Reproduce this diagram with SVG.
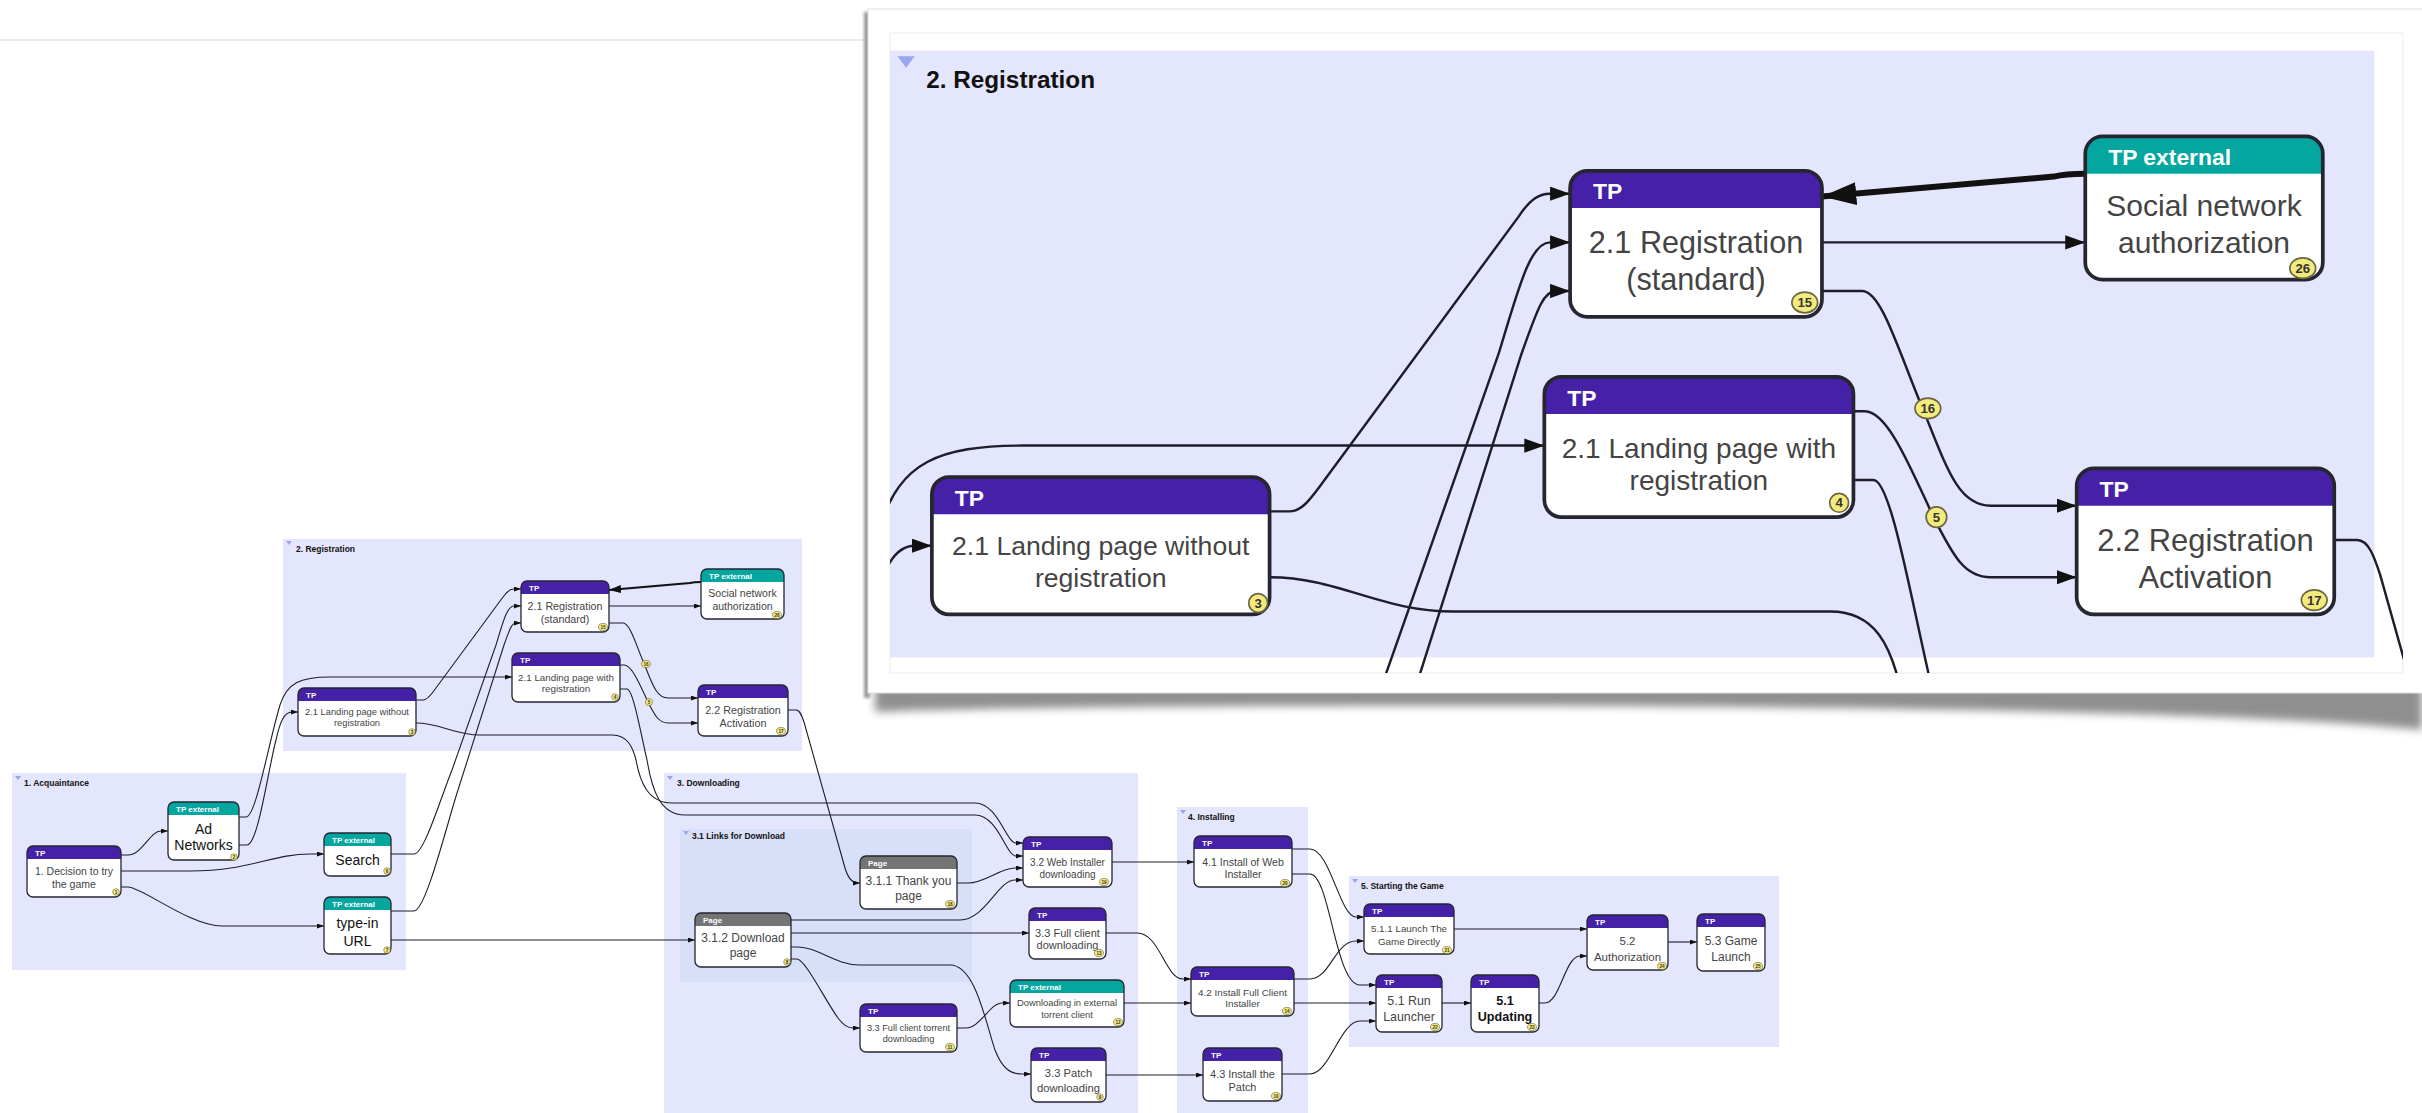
<svg xmlns="http://www.w3.org/2000/svg" width="2422" height="1113" viewBox="0 0 2422 1113">
<style>
.bg{fill:#e3e6fc}
.bg2{fill:#d8dff9}
.gl{font-family:"Liberation Sans",Arial,sans-serif;font-weight:bold;font-size:8.5px;fill:#111}
.tri{fill:#98a6f0}
.nb{fill:#fff}
.no{fill:none;stroke:#262630;stroke-width:1.3}
.tp{fill:#4521a8}
.ex{fill:#06a6a0}
.pg{fill:#747474}
.hl{font-family:"Liberation Sans",Arial,sans-serif;font-weight:bold;font-size:8px;fill:#fff}
.t{font-family:"Liberation Sans",Arial,sans-serif;fill:#444;text-anchor:middle}
.tb{fill:#111}
.e{fill:none;stroke:#1d1d2b;stroke-width:1.1;marker-end:url(#a)}
.ei .e{stroke-width:0.85}
.thick{fill:none;stroke:#111;stroke-width:2.1;marker-end:url(#ab)}
.bd{fill:#f3ea7e;stroke:#6b6540;stroke-width:.6}
.bn{font-family:"Liberation Sans",Arial,sans-serif;font-size:4.6px;fill:#333;text-anchor:middle;font-weight:bold}
</style>
<defs>
<marker id="a" markerUnits="userSpaceOnUse" markerWidth="7" markerHeight="5" refX="7" refY="2.5" orient="auto"><path d="M0,0 L7,2.5 L0,5 z" fill="#111"/></marker>
<marker id="ab" markerUnits="userSpaceOnUse" markerWidth="12" markerHeight="8" refX="12" refY="4" orient="auto"><path d="M0,0 L12,4 L0,8 z" fill="#111"/></marker>
<filter id="blur" x="-5%" y="-100%" width="110%" height="300%"><feGaussianBlur stdDeviation="4"/></filter>
<filter id="blur2" x="-200%" y="-5%" width="500%" height="110%"><feGaussianBlur stdDeviation="1.5"/></filter>
<clipPath id="insetClip"><rect x="890" y="33" width="1513" height="640"/></clipPath>
</defs>
<rect x="0" y="0" width="2422" height="1113" fill="#fff"/>
<line x1="0" y1="40" x2="868" y2="40" stroke="#e3e3e3" stroke-width="1.5"/>

<!-- groups -->
<g id="group-acquaintance">
<rect class="bg" x="12" y="773" width="394" height="197"/>
<path class="tri" d="M15,776h6l-3,4z"/>
<text class="gl" x="24" y="786">1. Acquaintance</text>
</g>
<g id="group-registration">
<rect class="bg" x="283" y="539" width="519" height="212"/>
<path class="tri" d="M286,541h6l-3,4z"/>
<text class="gl" x="296" y="552">2. Registration</text>
</g>
<g id="group-downloading">
<rect class="bg" x="664" y="773" width="474" height="340"/>
<path class="tri" d="M667,776h6l-3,4z"/>
<text class="gl" x="677" y="786">3. Downloading</text>
</g>
<g id="group-links">
<rect class="bg2" x="680" y="829" width="292" height="153"/>
<path class="tri" d="M683,831h6l-3,4z"/>
<text class="gl" x="692" y="839">3.1 Links for Download</text>
</g>
<g id="group-installing">
<rect class="bg" x="1177" y="807" width="131" height="306"/>
<path class="tri" d="M1180,810h6l-3,4z"/>
<text class="gl" x="1188" y="820">4. Installing</text>
</g>
<g id="group-starting">
<rect class="bg" x="1349" y="876" width="430" height="171"/>
<path class="tri" d="M1352,879h6l-3,4z"/>
<text class="gl" x="1361" y="889">5. Starting the Game</text>
</g>

<!-- connectors -->
<g id="connectors">
<path class="e" d="M121,855 H128 C142,855 150,831 161,831 H168"/>
<path class="e" d="M121,871 H190 C250,871 272,854 310,854 H324"/>
<path class="e" d="M121,887 H128 C142,887 190,926 222,926 H324"/>
<path class="e" d="M239,817 H246 C256,817 268,745 280,705 C287,683 300,677 330,677 H512"/>
<path class="e" d="M239,845 H247 C258,845 268,770 276,740 C280,722 284,712 292,712 H298"/>
<path class="e" d="M391,854 H414 C424,854 440,800 452,770 L496,645 C503,622 507,606 514,606 H521"/>
<path class="e" d="M391,911 H414 C426,911 448,820 458,790 L504,645 C510,628 512,623 516,623 H521"/>
<path class="e" d="M416,700 H423 C427,700 430,696 433,692 L503,597 C507,591 510,589 514,589 H521"/>
<path class="thick" d="M701,582 C697,582 694,582 690,583 L609,590"/>
<path class="e" d="M609,606 H701"/>
<path class="e" d="M609,623 H623 C630,623 636,645 645,666 C653,686 657,698 668,698 H698"/>
<path class="e" d="M620,665 H624 C632,665 640,685 648,702 C655,716 659,723 668,723 H698"/>
<path class="e" d="M620,689 H627 C633,689 640,730 647,760 C652,790 660,815 685,815 H975 C998,815 1006,856 1016,856 H1023"/>
<path class="e" d="M416,723 C440,723 455,735 480,735 H612 C628,735 633,748 636,760 C640,782 648,803 672,803 H975 C998,803 1006,843 1016,843 H1023"/>
<path class="e" d="M788,710 H796 C800,710 802,716 804,722 L845,868 C848,878 852,883 858,883 H860"/>
<path class="e" d="M957,883 H968 C985,883 1000,868 1015,868 H1023"/>
<path class="e" d="M791,920 H960 C985,920 998,880 1015,880 H1023"/>
<path class="e" d="M791,933 H1029"/>
<path class="e" d="M791,947 H798 C818,947 835,965 860,965 H950 C975,965 985,1020 995,1050 C1002,1068 1010,1074 1022,1074 H1031"/>
<path class="e" d="M791,959 H797 C805,959 825,1000 838,1018 C843,1025 848,1028 853,1028 H860"/>
<path class="e" d="M957,1028 H966 C980,1028 990,1003 1002,1003 H1010"/>
<path class="e" d="M1112,862 H1194"/>
<path class="e" d="M1106,933 H1137 C1160,933 1165,979 1183,979 H1191"/>
<path class="e" d="M1124,1003 H1191"/>
<path class="e" d="M1106,1075 H1203"/>
<path class="e" d="M1292,849 H1310 C1330,849 1340,917 1356,917 H1364"/>
<path class="e" d="M1292,874 H1310 C1330,874 1335,985 1360,985 H1376"/>
<path class="e" d="M1294,979 H1310 C1330,979 1335,941 1356,941 H1364"/>
<path class="e" d="M1294,1003 H1376"/>
<path class="e" d="M1282,1074 H1310 C1330,1074 1340,1021 1360,1021 H1376"/>
<path class="e" d="M1454,929 H1587"/>
<path class="e" d="M1442,1003 H1471"/>
<path class="e" d="M1539,1003 H1545 C1560,1003 1565,956 1580,956 H1587"/>
<path class="e" d="M1668,942 H1697"/>
<path class="e" d="M391,940 H695"/>
<ellipse class="bd" cx="646" cy="664" rx="4.5" ry="3.6"/><text class="bn" x="646" y="665.6">16</text>
<ellipse class="bd" cx="649" cy="702" rx="3.6" ry="3.6"/><text class="bn" x="649" y="703.6">5</text>
</g>

<!-- nodes -->
<g id="n-decision">
<rect class="nb" x="27" y="846" width="94" height="51" rx="6"/>
<path class="tp" d="M27,859v-7a6,6 0 0 1 6,-6h82a6,6 0 0 1 6,6v7z"/>
<rect class="no" x="27" y="846" width="94" height="51" rx="6"/>
<text class="hl" x="35" y="856">TP</text>
<text class="t" font-size="10.5"><tspan x="74" y="874.7">1. Decision to try</tspan><tspan x="74" y="887.7">the game</tspan></text>
<ellipse class="bd" cx="116" cy="892" rx="3.3" ry="3.3"/><text class="bn" x="116" y="893.6">1</text>
</g>
<g id="n-ad-networks">
<rect class="nb" x="168" y="802" width="71" height="58" rx="6"/>
<path class="ex" d="M168,815v-7a6,6 0 0 1 6,-6h59a6,6 0 0 1 6,6v7z"/>
<rect class="no" x="168" y="802" width="71" height="58" rx="6"/>
<text class="hl" x="176" y="812">TP external</text>
<text class="t tb" font-size="14"><tspan x="203.5" y="833.9">Ad</tspan><tspan x="203.5" y="849.9">Networks</tspan></text>
<ellipse class="bd" cx="234" cy="857" rx="3.3" ry="3.3"/><text class="bn" x="234" y="858.6">2</text>
</g>
<g id="n-search">
<rect class="nb" x="324" y="833" width="67" height="43" rx="6"/>
<path class="ex" d="M324,846v-7a6,6 0 0 1 6,-6h55a6,6 0 0 1 6,6v7z"/>
<rect class="no" x="324" y="833" width="67" height="43" rx="6"/>
<text class="hl" x="332" y="843">TP external</text>
<text class="t tb" font-size="14" x="357.5" y="864.9">Search</text>
<ellipse class="bd" cx="387" cy="871" rx="3.3" ry="3.3"/><text class="bn" x="387" y="872.6">6</text>
</g>
<g id="n-type-in-url">
<rect class="nb" x="324" y="897" width="67" height="57" rx="6"/>
<path class="ex" d="M324,910v-7a6,6 0 0 1 6,-6h55a6,6 0 0 1 6,6v7z"/>
<rect class="no" x="324" y="897" width="67" height="57" rx="6"/>
<text class="hl" x="332" y="907">TP external</text>
<text class="t tb" font-size="14"><tspan x="357.5" y="927.9">type-in</tspan><tspan x="357.5" y="945.9">URL</tspan></text>
<ellipse class="bd" cx="387" cy="950" rx="3.3" ry="3.3"/><text class="bn" x="387" y="951.6">7</text>
</g>
<g id="n-registration-standard">
<rect class="nb" x="521" y="581" width="88" height="51" rx="6"/>
<path class="tp" d="M521,594v-7a6,6 0 0 1 6,-6h76a6,6 0 0 1 6,6v7z"/>
<rect class="no" x="521" y="581" width="88" height="51" rx="6"/>
<text class="hl" x="529" y="591">TP</text>
<text class="t" font-size="10.7"><tspan x="565" y="609.7">2.1 Registration</tspan><tspan x="565" y="622.7">(standard)</tspan></text>
<ellipse class="bd" cx="603" cy="627" rx="4.5" ry="3.6"/><text class="bn" x="603" y="628.6">15</text>
</g>
<g id="n-social">
<rect class="nb" x="701" y="569" width="83" height="50" rx="6"/>
<path class="ex" d="M701,582v-7a6,6 0 0 1 6,-6h71a6,6 0 0 1 6,6v7z"/>
<rect class="no" x="701" y="569" width="83" height="50" rx="6"/>
<text class="hl" x="709" y="579">TP external</text>
<text class="t" font-size="10.5"><tspan x="742.5" y="596.7">Social network</tspan><tspan x="742.5" y="609.7">authorization</tspan></text>
<ellipse class="bd" cx="777" cy="615" rx="4.5" ry="3.6"/><text class="bn" x="777" y="616.6">26</text>
</g>
<g id="n-landing-with">
<rect class="nb" x="512" y="653" width="108" height="49" rx="6"/>
<path class="tp" d="M512,666v-7a6,6 0 0 1 6,-6h96a6,6 0 0 1 6,6v7z"/>
<rect class="no" x="512" y="653" width="108" height="49" rx="6"/>
<text class="hl" x="520" y="663">TP</text>
<text class="t" font-size="9.8"><tspan x="566" y="681.4">2.1 Landing page with</tspan><tspan x="566" y="692.4">registration</tspan></text>
<ellipse class="bd" cx="615" cy="697" rx="3.3" ry="3.3"/><text class="bn" x="615" y="698.6">4</text>
</g>
<g id="n-landing-without">
<rect class="nb" x="298" y="688" width="118" height="48" rx="6"/>
<path class="tp" d="M298,701v-7a6,6 0 0 1 6,-6h106a6,6 0 0 1 6,6v7z"/>
<rect class="no" x="298" y="688" width="118" height="48" rx="6"/>
<text class="hl" x="306" y="698">TP</text>
<text class="t" font-size="9.3"><tspan x="357" y="715.3">2.1 Landing page without</tspan><tspan x="357" y="726.3">registration</tspan></text>
<ellipse class="bd" cx="412" cy="732" rx="3.3" ry="3.3"/><text class="bn" x="412" y="733.6">3</text>
</g>
<g id="n-activation">
<rect class="nb" x="698" y="685" width="90" height="51" rx="6"/>
<path class="tp" d="M698,698v-7a6,6 0 0 1 6,-6h78a6,6 0 0 1 6,6v7z"/>
<rect class="no" x="698" y="685" width="90" height="51" rx="6"/>
<text class="hl" x="706" y="695">TP</text>
<text class="t" font-size="10.8"><tspan x="743" y="713.8">2.2 Registration</tspan><tspan x="743" y="726.8">Activation</tspan></text>
<ellipse class="bd" cx="781" cy="731" rx="4.5" ry="3.6"/><text class="bn" x="781" y="732.6">17</text>
</g>
<g id="n-download-page">
<rect class="nb" x="695" y="913" width="96" height="54" rx="6"/>
<path class="pg" d="M695,926v-7a6,6 0 0 1 6,-6h84a6,6 0 0 1 6,6v7z"/>
<rect class="no" x="695" y="913" width="96" height="54" rx="6"/>
<text class="hl" x="703" y="923">Page</text>
<text class="t" font-size="12"><tspan x="743" y="942.2">3.1.2 Download</tspan><tspan x="743" y="957.2">page</tspan></text>
<ellipse class="bd" cx="787" cy="962" rx="3.3" ry="3.3"/><text class="bn" x="787" y="963.6">8</text>
</g>
<g id="n-thank-you">
<rect class="nb" x="860" y="856" width="97" height="53" rx="6"/>
<path class="pg" d="M860,869v-7a6,6 0 0 1 6,-6h85a6,6 0 0 1 6,6v7z"/>
<rect class="no" x="860" y="856" width="97" height="53" rx="6"/>
<text class="hl" x="868" y="866">Page</text>
<text class="t" font-size="12"><tspan x="908.5" y="885.2">3.1.1 Thank you</tspan><tspan x="908.5" y="900.2">page</tspan></text>
<ellipse class="bd" cx="950" cy="904" rx="4.5" ry="3.6"/><text class="bn" x="950" y="905.6">18</text>
</g>
<g id="n-web-installer">
<rect class="nb" x="1023" y="837" width="89" height="50" rx="6"/>
<path class="tp" d="M1023,850v-7a6,6 0 0 1 6,-6h77a6,6 0 0 1 6,6v7z"/>
<rect class="no" x="1023" y="837" width="89" height="50" rx="6"/>
<text class="hl" x="1031" y="847">TP</text>
<text class="t" font-size="10"><tspan x="1067.5" y="865.5">3.2 Web Installer</tspan><tspan x="1067.5" y="877.5">downloading</tspan></text>
<ellipse class="bd" cx="1104" cy="882" rx="4.5" ry="3.6"/><text class="bn" x="1104" y="883.6">19</text>
</g>
<g id="n-full-client">
<rect class="nb" x="1029" y="908" width="77" height="51" rx="6"/>
<path class="tp" d="M1029,921v-7a6,6 0 0 1 6,-6h65a6,6 0 0 1 6,6v7z"/>
<rect class="no" x="1029" y="908" width="77" height="51" rx="6"/>
<text class="hl" x="1037" y="918">TP</text>
<text class="t" font-size="11"><tspan x="1067.5" y="936.9">3.3 Full client</tspan><tspan x="1067.5" y="948.9">downloading</tspan></text>
<ellipse class="bd" cx="1099" cy="953" rx="4.5" ry="3.6"/><text class="bn" x="1099" y="954.6">13</text>
</g>
<g id="n-torrent-external">
<rect class="nb" x="1010" y="980" width="114" height="47" rx="6"/>
<path class="ex" d="M1010,993v-7a6,6 0 0 1 6,-6h102a6,6 0 0 1 6,6v7z"/>
<rect class="no" x="1010" y="980" width="114" height="47" rx="6"/>
<text class="hl" x="1018" y="990">TP external</text>
<text class="t" font-size="9.4"><tspan x="1067" y="1006.3">Downloading in external</tspan><tspan x="1067" y="1018.3">torrent client</tspan></text>
<ellipse class="bd" cx="1118" cy="1022" rx="4.5" ry="3.6"/><text class="bn" x="1118" y="1023.6">12</text>
</g>
<g id="n-full-client-torrent">
<rect class="nb" x="860" y="1004" width="97" height="48" rx="6"/>
<path class="tp" d="M860,1017v-7a6,6 0 0 1 6,-6h85a6,6 0 0 1 6,6v7z"/>
<rect class="no" x="860" y="1004" width="97" height="48" rx="6"/>
<text class="hl" x="868" y="1014">TP</text>
<text class="t" font-size="9.2"><tspan x="908.5" y="1031.2">3.3 Full client torrent</tspan><tspan x="908.5" y="1042.2">downloading</tspan></text>
<ellipse class="bd" cx="950" cy="1047" rx="4.5" ry="3.6"/><text class="bn" x="950" y="1048.6">11</text>
</g>
<g id="n-patch-downloading">
<rect class="nb" x="1031" y="1048" width="75" height="54" rx="6"/>
<path class="tp" d="M1031,1061v-7a6,6 0 0 1 6,-6h63a6,6 0 0 1 6,6v7z"/>
<rect class="no" x="1031" y="1048" width="75" height="54" rx="6"/>
<text class="hl" x="1039" y="1058">TP</text>
<text class="t" font-size="11.2"><tspan x="1068.5" y="1076.9">3.3 Patch</tspan><tspan x="1068.5" y="1091.9">downloading</tspan></text>
<ellipse class="bd" cx="1100" cy="1097" rx="3.3" ry="3.3"/><text class="bn" x="1100" y="1098.6">9</text>
</g>
<g id="n-install-web">
<rect class="nb" x="1194" y="836" width="98" height="51" rx="6"/>
<path class="tp" d="M1194,849v-7a6,6 0 0 1 6,-6h86a6,6 0 0 1 6,6v7z"/>
<rect class="no" x="1194" y="836" width="98" height="51" rx="6"/>
<text class="hl" x="1202" y="846">TP</text>
<text class="t" font-size="10.6"><tspan x="1243" y="865.7">4.1 Install of Web</tspan><tspan x="1243" y="877.7">Installer</tspan></text>
<ellipse class="bd" cx="1285" cy="883" rx="4.5" ry="3.6"/><text class="bn" x="1285" y="884.6">20</text>
</g>
<g id="n-install-full">
<rect class="nb" x="1191" y="967" width="103" height="49" rx="6"/>
<path class="tp" d="M1191,980v-7a6,6 0 0 1 6,-6h91a6,6 0 0 1 6,6v7z"/>
<rect class="no" x="1191" y="967" width="103" height="49" rx="6"/>
<text class="hl" x="1199" y="977">TP</text>
<text class="t" font-size="9.9"><tspan x="1242.5" y="995.5">4.2 Install Full Client</tspan><tspan x="1242.5" y="1006.5">Installer</tspan></text>
<ellipse class="bd" cx="1287" cy="1011" rx="4.5" ry="3.6"/><text class="bn" x="1287" y="1012.6">14</text>
</g>
<g id="n-install-patch">
<rect class="nb" x="1203" y="1048" width="79" height="53" rx="6"/>
<path class="tp" d="M1203,1061v-7a6,6 0 0 1 6,-6h67a6,6 0 0 1 6,6v7z"/>
<rect class="no" x="1203" y="1048" width="79" height="53" rx="6"/>
<text class="hl" x="1211" y="1058">TP</text>
<text class="t" font-size="10.9"><tspan x="1242.5" y="1077.8">4.3 Install the</tspan><tspan x="1242.5" y="1090.8">Patch</tspan></text>
<ellipse class="bd" cx="1276" cy="1096" rx="4.5" ry="3.6"/><text class="bn" x="1276" y="1097.6">10</text>
</g>
<g id="n-launch-directly">
<rect class="nb" x="1364" y="904" width="90" height="50" rx="6"/>
<path class="tp" d="M1364,917v-7a6,6 0 0 1 6,-6h78a6,6 0 0 1 6,6v7z"/>
<rect class="no" x="1364" y="904" width="90" height="50" rx="6"/>
<text class="hl" x="1372" y="914">TP</text>
<text class="t" font-size="9.8"><tspan x="1409" y="932.4">5.1.1 Launch The</tspan><tspan x="1409" y="945.4">Game Directly</tspan></text>
<ellipse class="bd" cx="1447" cy="950" rx="4.5" ry="3.6"/><text class="bn" x="1447" y="951.6">21</text>
</g>
<g id="n-run-launcher">
<rect class="nb" x="1376" y="975" width="66" height="57" rx="6"/>
<path class="tp" d="M1376,988v-7a6,6 0 0 1 6,-6h54a6,6 0 0 1 6,6v7z"/>
<rect class="no" x="1376" y="975" width="66" height="57" rx="6"/>
<text class="hl" x="1384" y="985">TP</text>
<text class="t" font-size="12.4"><tspan x="1409" y="1005.3">5.1 Run</tspan><tspan x="1409" y="1021.3">Launcher</tspan></text>
<ellipse class="bd" cx="1435" cy="1027" rx="4.5" ry="3.6"/><text class="bn" x="1435" y="1028.6">22</text>
</g>
<g id="n-updating">
<rect class="nb" x="1471" y="975" width="68" height="57" rx="6"/>
<path class="tp" d="M1471,988v-7a6,6 0 0 1 6,-6h56a6,6 0 0 1 6,6v7z"/>
<rect class="no" x="1471" y="975" width="68" height="57" rx="6"/>
<text class="hl" x="1479" y="985">TP</text>
<text class="t tb" font-size="12.6" font-weight="bold"><tspan x="1505" y="1005.4">5.1</tspan><tspan x="1505" y="1021.4">Updating</tspan></text>
<ellipse class="bd" cx="1532" cy="1027" rx="4.5" ry="3.6"/><text class="bn" x="1532" y="1028.6">23</text>
</g>
<g id="n-authorization">
<rect class="nb" x="1587" y="915" width="81" height="55" rx="6"/>
<path class="tp" d="M1587,928v-7a6,6 0 0 1 6,-6h69a6,6 0 0 1 6,6v7z"/>
<rect class="no" x="1587" y="915" width="81" height="55" rx="6"/>
<text class="hl" x="1595" y="925">TP</text>
<text class="t" font-size="11.5"><tspan x="1627.5" y="945">5.2</tspan><tspan x="1627.5" y="961">Authorization</tspan></text>
<ellipse class="bd" cx="1662" cy="966" rx="4.5" ry="3.6"/><text class="bn" x="1662" y="967.6">24</text>
</g>
<g id="n-game-launch">
<rect class="nb" x="1697" y="914" width="68" height="57" rx="6"/>
<path class="tp" d="M1697,927v-7a6,6 0 0 1 6,-6h56a6,6 0 0 1 6,6v7z"/>
<rect class="no" x="1697" y="914" width="68" height="57" rx="6"/>
<text class="hl" x="1705" y="924">TP</text>
<text class="t" font-size="12"><tspan x="1731" y="945.2">5.3 Game</tspan><tspan x="1731" y="961.2">Launch</tspan></text>
<ellipse class="bd" cx="1758" cy="966" rx="4.5" ry="3.6"/><text class="bn" x="1758" y="967.6">25</text>
</g>

<!-- magnified inset of 2. Registration -->
<g id="inset">
<path d="M875,686 H2422 V730 C2300,716 2000,708 1600,706 C1300,705 1000,707 875,712 Z" fill="#6a6a6a" opacity=".75" filter="url(#blur)"/>
<rect x="864" y="12" width="6" height="686" fill="#9a9a9a" filter="url(#blur2)"/>
<rect x="868" y="9" width="1560" height="684" fill="#fff" stroke="#e0e0e0"/>
<rect x="890" y="33" width="1513" height="640" fill="#fff" stroke="#ebebeb"/>
<g clip-path="url(#insetClip)">
<g transform="translate(79,-1492) scale(2.862)">
<g id="inset-group-registration">
<rect class="bg" x="283" y="539" width="519" height="212"/>
<path class="tri" d="M286,541h6l-3,4z"/>
<text class="gl" x="296" y="552">2. Registration</text>
</g>
<g id="inset-connectors" class="ei">
<path class="e" d="M239,817 H246 C256,817 268,745 280,705 C287,683 300,677 330,677 H512"/>
<path class="e" d="M239,845 H247 C258,845 268,770 276,740 C280,722 284,712 292,712 H298"/>
<path class="e" d="M391,854 H414 C424,854 440,800 452,770 L496,645 C503,622 507,606 514,606 H521"/>
<path class="e" d="M391,911 H414 C426,911 448,820 458,790 L504,645 C510,628 512,623 516,623 H521"/>
<path class="e" d="M416,700 H423 C427,700 430,696 433,692 L503,597 C507,591 510,589 514,589 H521"/>
<path class="thick" d="M701,582 C697,582 694,582 690,583 L609,590"/>
<path class="e" d="M609,606 H701"/>
<path class="e" d="M609,623 H623 C630,623 636,645 645,666 C653,686 657,698 668,698 H698"/>
<path class="e" d="M620,665 H624 C632,665 640,685 648,702 C655,716 659,723 668,723 H698"/>
<path class="e" d="M620,689 H627 C633,689 640,730 647,760 C652,790 660,815 685,815 H975"/>
<path class="e" d="M416,723 C440,723 455,735 480,735 H612 C628,735 633,748 636,760 C640,782 648,803 672,803 H975"/>
<path class="e" d="M788,710 H796 C800,710 802,716 804,722 L845,868"/>
<ellipse class="bd" cx="646" cy="664" rx="4.5" ry="3.6"/><text class="bn" x="646" y="665.6">16</text>
<ellipse class="bd" cx="649" cy="702" rx="3.6" ry="3.6"/><text class="bn" x="649" y="703.6">5</text>
</g>
<g id="inset-n-registration-standard">
<rect class="nb" x="521" y="581" width="88" height="51" rx="6"/>
<path class="tp" d="M521,594v-7a6,6 0 0 1 6,-6h76a6,6 0 0 1 6,6v7z"/>
<rect class="no" x="521" y="581" width="88" height="51" rx="6"/>
<text class="hl" x="529" y="591">TP</text>
<text class="t" font-size="10.7"><tspan x="565" y="609.7">2.1 Registration</tspan><tspan x="565" y="622.7">(standard)</tspan></text>
<ellipse class="bd" cx="603" cy="627" rx="4.5" ry="3.6"/><text class="bn" x="603" y="628.6">15</text>
</g>
<g id="inset-n-social">
<rect class="nb" x="701" y="569" width="83" height="50" rx="6"/>
<path class="ex" d="M701,582v-7a6,6 0 0 1 6,-6h71a6,6 0 0 1 6,6v7z"/>
<rect class="no" x="701" y="569" width="83" height="50" rx="6"/>
<text class="hl" x="709" y="579">TP external</text>
<text class="t" font-size="10.5"><tspan x="742.5" y="596.7">Social network</tspan><tspan x="742.5" y="609.7">authorization</tspan></text>
<ellipse class="bd" cx="777" cy="615" rx="4.5" ry="3.6"/><text class="bn" x="777" y="616.6">26</text>
</g>
<g id="inset-n-landing-with">
<rect class="nb" x="512" y="653" width="108" height="49" rx="6"/>
<path class="tp" d="M512,666v-7a6,6 0 0 1 6,-6h96a6,6 0 0 1 6,6v7z"/>
<rect class="no" x="512" y="653" width="108" height="49" rx="6"/>
<text class="hl" x="520" y="663">TP</text>
<text class="t" font-size="9.8"><tspan x="566" y="681.4">2.1 Landing page with</tspan><tspan x="566" y="692.4">registration</tspan></text>
<ellipse class="bd" cx="615" cy="697" rx="3.3" ry="3.3"/><text class="bn" x="615" y="698.6">4</text>
</g>
<g id="inset-n-landing-without">
<rect class="nb" x="298" y="688" width="118" height="48" rx="6"/>
<path class="tp" d="M298,701v-7a6,6 0 0 1 6,-6h106a6,6 0 0 1 6,6v7z"/>
<rect class="no" x="298" y="688" width="118" height="48" rx="6"/>
<text class="hl" x="306" y="698">TP</text>
<text class="t" font-size="9.3"><tspan x="357" y="715.3">2.1 Landing page without</tspan><tspan x="357" y="726.3">registration</tspan></text>
<ellipse class="bd" cx="412" cy="732" rx="3.3" ry="3.3"/><text class="bn" x="412" y="733.6">3</text>
</g>
<g id="inset-n-activation">
<rect class="nb" x="698" y="685" width="90" height="51" rx="6"/>
<path class="tp" d="M698,698v-7a6,6 0 0 1 6,-6h78a6,6 0 0 1 6,6v7z"/>
<rect class="no" x="698" y="685" width="90" height="51" rx="6"/>
<text class="hl" x="706" y="695">TP</text>
<text class="t" font-size="10.8"><tspan x="743" y="713.8">2.2 Registration</tspan><tspan x="743" y="726.8">Activation</tspan></text>
<ellipse class="bd" cx="781" cy="731" rx="4.5" ry="3.6"/><text class="bn" x="781" y="732.6">17</text>
</g>
</g>
</g>
</g>
</svg>
